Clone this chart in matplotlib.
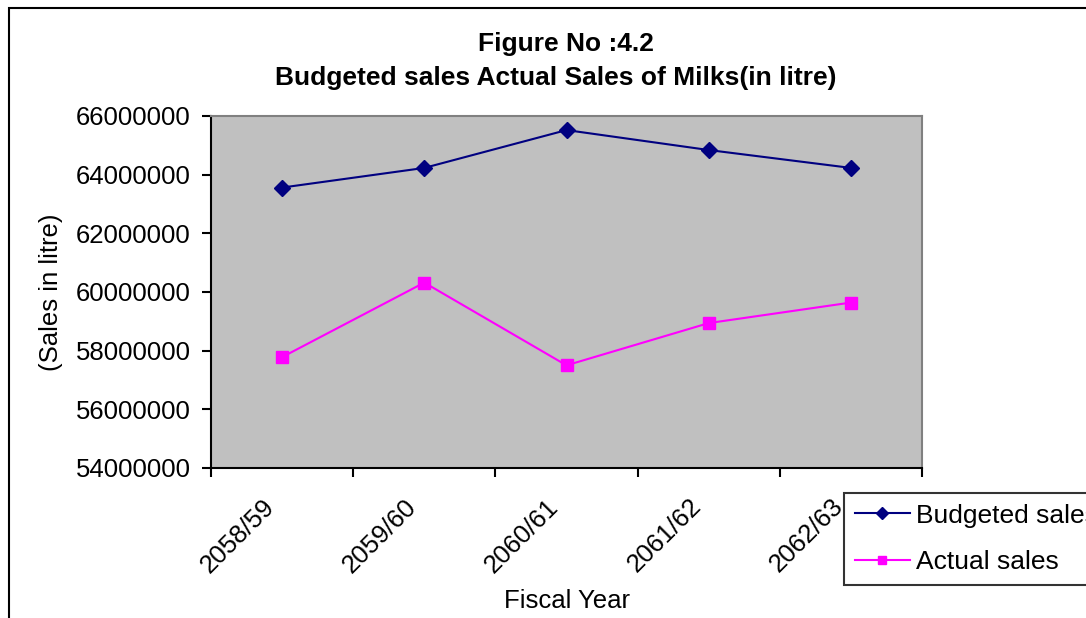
import matplotlib
matplotlib.use("Agg")
import matplotlib.pyplot as plt
from matplotlib.patches import Rectangle
from matplotlib.transforms import ScaledTranslation

plt.rcParams['font.family'] = ['Liberation Sans', 'DejaVu Sans']

years = ["2058/59", "2059/60", "2060/61", "2061/62", "2062/63"]
budgeted = [63560000, 64230000, 65520000, 64840000, 64230000]
actual = [57780000, 60320000, 57500000, 58940000, 59640000]

W, H = 1086, 618
fig = plt.figure(figsize=(W / 100, H / 100), dpi=100)

# plot area in pixels: left 211, top 116, right 922, bottom 468
ax = fig.add_axes([211 / W, 1 - 468 / H, (922 - 211) / W, (468 - 116) / H])
ax.set_facecolor("#C0C0C0")

x = list(range(len(years)))
ax.plot(x, budgeted, color="#000080", lw=1.5, marker="D", ms=8.5,
        label="Budgeted sales")
ax.plot(x, actual, color="#FF00FF", lw=1.5, marker="s", ms=8.5,
        label="Actual sales")

ax.set_xlim(-0.5, len(years) - 0.5)
ax.set_ylim(54000000, 66000000)
yt = list(range(54000000, 66000001, 2000000))
ax.set_yticks(yt)
ax.set_yticklabels([str(v) for v in yt])

# ticks between categories, labels at category centres
ax.set_xticks([i - 0.5 for i in range(len(years) + 1)])
ax.set_xticklabels([])
ax.set_xticks(x, minor=True)
ax.set_xticklabels(years, minor=True, rotation=45, ha="right",
                   va="top", rotation_mode="anchor", fontsize=18.5)
ax.tick_params(axis="x", which="minor", length=0, pad=19)
ax.tick_params(axis="x", which="major", direction="out", length=6.5,
               width=1.5, color="black")
ax.tick_params(axis="y", direction="out", length=6.5, width=1.5,
               labelsize=18.5, pad=8)

shift = ScaledTranslation(-20 / 100, 0, fig.dpi_scale_trans)
for lab in ax.get_xticklabels(minor=True):
    lab.set_transform(lab.get_transform() + shift)

for s in ["left", "bottom"]:
    ax.spines[s].set_color("black")
    ax.spines[s].set_linewidth(1.5)
for s in ["top", "right"]:
    ax.spines[s].set_color("#808080")
    ax.spines[s].set_linewidth(1.5)

ax.set_ylabel("(Sales in litre)", fontsize=18.5, labelpad=9)
ax.set_xlabel("Fiscal Year", fontsize=18.5)
ax.xaxis.set_label_coords(0.5, -0.345)

fig.text(566 / W, 1 - 44 / H, "Figure No :4.2", ha="center", va="center",
         fontsize=19, fontweight="bold")
fig.text(556 / W, 1 - 78 / H, "Budgeted sales Actual Sales of Milks(in litre)",
         ha="center", va="center", fontsize=19, fontweight="bold")

leg = fig.legend(loc="upper left", bbox_to_anchor=(844 / W, 1 - 493 / H),
                 fontsize=19, frameon=True, fancybox=False, borderpad=0.4,
                 handlelength=2.1, handletextpad=0.22, labelspacing=0.86,
                 borderaxespad=0, markerscale=0.7)
leg.get_frame().set_edgecolor("black")
leg.get_frame().set_linewidth(1.5)

fig.patches.append(Rectangle((9 / W, -0.05), 1.1, 1 - 8 / H + 0.05,
                             transform=fig.transFigure, fill=False,
                             edgecolor="black", lw=1.5))

fig.savefig("out.png", dpi=100)
